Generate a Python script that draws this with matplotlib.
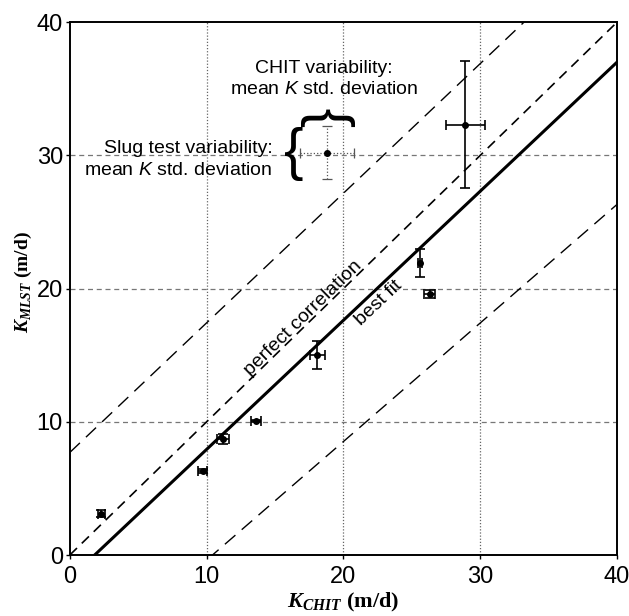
import numpy as np
import matplotlib
matplotlib.use('Agg')
import matplotlib.pyplot as plt

plt.rcParams['font.family'] = 'Liberation Sans'
plt.rcParams['mathtext.fontset'] = 'custom'
plt.rcParams['mathtext.rm'] = 'Liberation Sans'
plt.rcParams['mathtext.it'] = 'Liberation Sans:italic'
plt.rcParams['mathtext.bfit'] = 'Liberation Serif:italic:bold'

# measured points: K_CHIT vs K_MLST with std. deviations
k_chit = [2.3, 9.7, 11.2, 13.6, 18.1, 25.6, 26.3, 28.9]
k_mlst = [3.1, 6.3, 8.7, 10.05, 15.0, 21.95, 19.6, 32.3]
chit_err = [0.25, 0.3, 0.45, 0.35, 0.55, 0.15, 0.4, 1.42]
mlst_err = [0.25, 0.12, 0.35, 0.1, 1.05, 1.05, 0.3, 4.75]

# example point showing typical variability
ex_x, ex_y = 18.8, 30.2
ex_xerr, ex_yerr = 2.0, 2.0

# fitted line and its bands (slope, intercept)
fit_line = (0.969, -1.76)
upper_band = (0.973, 7.7)
lower_band = (0.89, -9.28)

fig = plt.figure(figsize=(6.29, 6.16), dpi=100)
ax = fig.add_axes([0.111, 0.099, 0.87, 0.865])

xs = np.array([0, 40])
ax.plot(xs, xs, color='black', lw=1.2, dashes=(6, 4))
ax.plot(xs, fit_line[0] * xs + fit_line[1], color='black', lw=2.2)
ax.plot(xs, upper_band[0] * xs + upper_band[1], color='black', lw=1.0, dashes=(10, 6))
ax.plot(xs, lower_band[0] * xs + lower_band[1], color='black', lw=1.0, dashes=(10, 6))

ax.errorbar(k_chit, k_mlst, xerr=chit_err, yerr=mlst_err, fmt='o', color='black',
            ms=4, elinewidth=1.2, capsize=3.5, capthick=1.2)

eb = ax.errorbar([ex_x], [ex_y], xerr=[ex_xerr], yerr=[ex_yerr], fmt='o', color='black',
                 ms=4, ecolor='#555555', elinewidth=0.9, capsize=3.5, capthick=0.9)
for c in eb[2]:
    c.set_linestyle(':')

for v in [10, 20, 30]:
    ax.axvline(v, color='#666666', lw=0.9, ls=(0, (1, 1.5)), zorder=0)
    ax.axhline(v, color='#777777', lw=0.9, ls=(0, (4, 3)), zorder=0)

ax.set_xlim(0, 40)
ax.set_ylim(0, 40)
ax.set_xticks([0, 10, 20, 30, 40])
ax.set_yticks([0, 10, 20, 30, 40])
ax.tick_params(labelsize=17, length=3, width=1, direction='out')
ax.tick_params(axis='x', pad=5)
ax.tick_params(axis='y', pad=2)
for s in ax.spines.values():
    s.set_linewidth(1.4)

ax.set_xlabel(r'$\mathbfit{K}_{\mathbfit{CHIT}}$ (m/d)', fontsize=16,
              family='Liberation Serif', fontweight='bold', labelpad=2)
ax.set_ylabel(r'$\mathbfit{K}_{\mathbfit{MLST}}$ (m/d)', fontsize=14,
              family='Liberation Serif', fontweight='bold')
ax.yaxis.set_label_coords(-0.066, 0.512)

ax.text(18.6, 35.75, 'CHIT variability:\nmean $K$ std. deviation', fontsize=14,
        ha='center', va='center', linespacing=1.35)
ax.text(14.8, 29.7, 'Slug test variability:\nmean $K$ std. deviation', fontsize=14,
        ha='right', va='center', linespacing=1.35)
ax.text(16.35, 30.1, '{', fontsize=42, family='Liberation Sans',
        ha='center', va='center')
ax.text(18.9, 32.85, '}', fontsize=42, family='Liberation Sans',
        ha='center', va='center', rotation=90)

ax.text(17.3, 17.55, 'perfect correlation', fontsize=14, rotation=44.3,
        ha='center', va='baseline', rotation_mode='anchor')
ax.text(22.6, 18.9, 'best fit', fontsize=14, rotation=43.4,
        ha='center', va='center', rotation_mode='anchor')

fig.savefig('out.png', dpi=100)
